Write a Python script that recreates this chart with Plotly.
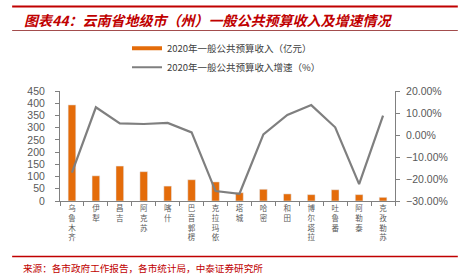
import plotly.graph_objects as go

categories = ["乌鲁木齐", "伊犁", "昌吉", "阿克苏", "喀什", "巴音郭楞", "克拉玛依",
              "塔城", "哈密", "和田", "博尔塔拉", "吐鲁番", "阿勒泰", "克孜勒苏"]
revenue = [393, 103, 143, 120, 61, 87, 78, 34, 48, 29, 26, 46, 26, 15]
growth_pct = [-17.1, 12.6, 5.3, 5.0, 5.5, 1.2, -25.5, -26.7, 0.3, 9.1, 13.6, 3.5, -22.3, 8.8]
name_rev = "2020年一般公共预算收入（亿元）"
name_growth = "2020年一般公共预算收入增速（%）"
title_text = "图表44：云南省地级市（州）一般公共预算收入及增速情况"
source_text = "来源：各市政府工作报告，各市统计局，中泰证券研究所"

ORANGE = "#E46C0A"
GREY_LINE = "#7F7F7F"
RED = "#C00000"
TICK_FONT = dict(family="Liberation Sans, Arial", size=10.5, color="#595959")
CJK = "Noto Sans CJK SC"

vert_labels = ["<br>".join(list(c)) for c in categories]

fig = go.Figure()
fig.add_trace(go.Bar(x=vert_labels, y=revenue, marker_color=ORANGE, width=0.32,
                     name=name_rev, showlegend=False, yaxis="y"))
fig.add_trace(go.Scatter(x=vert_labels, y=[g / 100 for g in growth_pct], mode="lines",
                         line=dict(color=GREY_LINE, width=2.2), name=name_growth,
                         showlegend=False, yaxis="y2"))
# legend entries
fig.add_trace(go.Scatter(x=[None], y=[None], mode="lines", line=dict(color=ORANGE, width=4),
                         name=name_rev, showlegend=True))
fig.add_trace(go.Scatter(x=[None], y=[None], mode="lines", line=dict(color=GREY_LINE, width=2),
                         name=name_growth, showlegend=True))

fig.update_layout(
    width=469, height=276,
    margin=dict(l=60, r=74, t=91, b=75),
    paper_bgcolor="white", plot_bgcolor="white",
    showlegend=True,
    legend=dict(x=0.2, y=1.52, xanchor="left", yanchor="top",
                font=dict(family=CJK, size=9.5, color="#404040"),
                itemwidth=30, tracegroupgap=0, bgcolor="rgba(0,0,0,0)"),
    xaxis=dict(type="category", showline=True, linecolor="#808080", linewidth=1,
               ticks="outside", tickson="boundaries", ticklen=4, tickcolor="#808080",
               tickfont=dict(family=CJK, size=7.5, color="#595959"),
               tickangle=0, showgrid=False, zeroline=False),
    yaxis=dict(range=[0, 450], dtick=50, showline=True, linecolor="#808080",
               ticks="outside", ticklen=4, tickcolor="#808080", tickfont=TICK_FONT,
               showgrid=False, zeroline=False, ticklabelstandoff=8),
    yaxis2=dict(range=[-0.30, 0.20], dtick=0.10, tickformat=".2%", overlaying="y",
                side="right", showline=True, linecolor="#808080", ticks="outside",
                ticklen=4, tickcolor="#808080", tickfont=TICK_FONT, showgrid=False,
                zeroline=False, ticklabelstandoff=4),
    font=dict(family=CJK),
)

# title / source decoration
fig.add_shape(type="line", xref="paper", yref="paper", x0=-48/336, x1=399/336,
              y0=(201-6.5)/110, y1=(201-6.5)/110, line=dict(color=RED, width=2))
fig.add_shape(type="line", xref="paper", yref="paper", x0=-48/336, x1=399/336,
              y0=(201-30.5)/110, y1=(201-30.5)/110, line=dict(color="#8B2020", width=0.8))
fig.add_shape(type="line", xref="paper", yref="paper", x0=-48/336, x1=399/336,
              y0=(201-256.5)/110, y1=(201-256.5)/110, line=dict(color=RED, width=1.5))
fig.add_annotation(text="<b><i>" + title_text + "</i></b>", xref="paper", yref="paper",
                   x=-38/336, y=(201-19.5)/110, xanchor="left", yanchor="middle",
                   showarrow=False, font=dict(family=CJK, size=14, color=RED))
fig.add_annotation(text=source_text, xref="paper", yref="paper",
                   x=-39/336, y=(201-267.5)/110, xanchor="left", yanchor="middle",
                   showarrow=False, font=dict(family=CJK, size=9.6, color=RED))

fig.write_html("out.html")
